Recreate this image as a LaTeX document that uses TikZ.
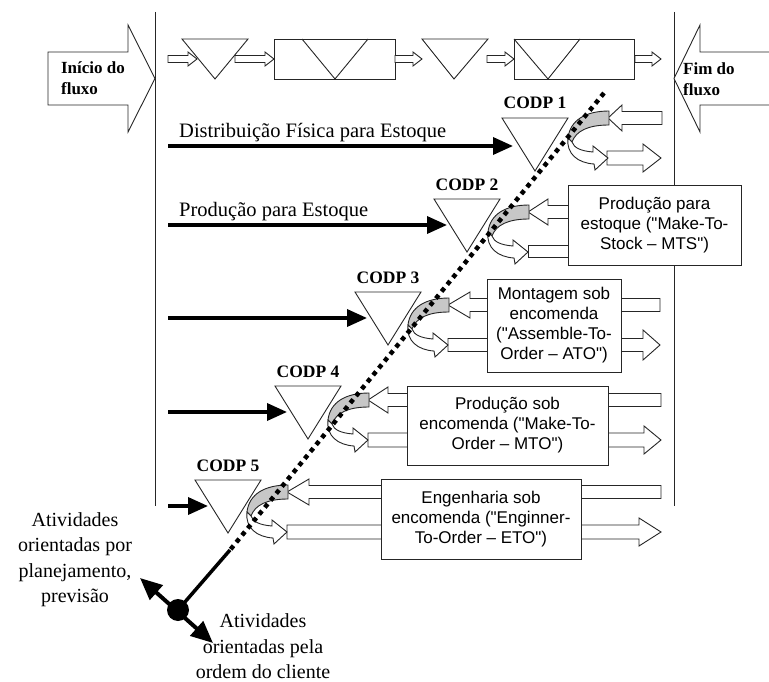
\documentclass[tikz,border=0pt]{standalone}
\usepackage{fontspec}
\setmainfont{Liberation Serif}
\newfontfamily\boxfont{Liberation Sans}
\usetikzlibrary{arrows.meta}

% hollow block arrow: tail x, head base x, tip x, centre y, shaft half-height, head half-height
\newcommand{\hollowarrow}[6]{%
  \draw[lineart,fill=white] (#1,#4-#5) -- (#2,#4-#5) -- (#2,#4-#6) -- (#3,#4)
    -- (#2,#4+#6) -- (#2,#4+#5) -- (#1,#4+#5) -- cycle;}

% U-turn at a decoupling point; #1,#2 = tip of the incoming arrow
\newcommand{\turnback}[2]{%
  \begin{scope}[shift={(#1,#2)}]
    \draw[lineart,fill=black!22] (1,-7) .. controls (-22,-7) and (-38,2) .. (-40,20)
      -- (-36,24) .. controls (-32,13) and (-20,7) .. (1,7) -- cycle;
    \draw[lineart,fill=white] (-40,20) .. controls (-42,36) and (-30,45) .. (-14,46)
      -- (-13,52) -- (0,40) -- (-15,28) -- (-15,34)
      .. controls (-27,33) and (-34,30) .. (-36,24) -- cycle;
  \end{scope}}

% decoupling point triangle: name, left x, top y, label
\newcommand{\codp}[4]{%
  \coordinate (#1) at (#2,#3+27);
  \draw[lineart,fill=white] (#2,#3) -- (#2+66,#3) -- (#2+33,#3+53) -- cycle;
  \node[codplabel,anchor=base] (#1lbl) at (#2+33,#3-9) {#4};}

\begin{document}
\begin{tikzpicture}[x=1pt,y=-1pt,
  lineart/.style={line width=0.9pt,draw=black!85,line join=miter},
  lead/.style={line width=3.5pt,-{Triangle[length=20pt,width=17pt]}},
  codplabel/.style={font=\bfseries\fontsize{17.5}{21}\selectfont,inner sep=0pt},
  flowlabel/.style={font=\bfseries\fontsize{17}{21}\selectfont,inner sep=0pt,align=left},
  leadlabel/.style={font=\fontsize{20.5}{26}\selectfont,inner sep=0pt},
  sidelabel/.style={font=\fontsize{20}{25.5}\selectfont,inner sep=0pt,align=center},
  procbox/.style={lineart,fill=white,align=center,inner sep=0pt,
    font=\boxfont\fontsize{17}{20}\selectfont}]
\useasboundingbox (0,0) rectangle (769,682);
\clip (0,0) rectangle (769,682);

% boundaries of the flow
\draw[lineart] (155,12) -- (155,506);
\draw[lineart] (674,12) -- (674,506);

% start and end of the flow
\draw[lineart,fill=white] (48,52) -- (128,52) -- (128,25) -- (155,78.5) -- (128,132)
  -- (128,105) -- (48,105) -- cycle;
\node[flowlabel,anchor=center] (inicio) at (93,78.5) {Início do\\fluxo};
\draw[lineart,fill=white] (775,52) -- (700,52) -- (700,25) -- (674,78.5) -- (700,132)
  -- (700,105) -- (775,105) -- cycle;
\node[flowlabel,anchor=west] (fim) at (683,79) {Fim do\\fluxo};

% material flow chain along the top
\hollowarrow{168}{188}{197}{59}{3.5}{7}
\draw[lineart] (182,39) -- (248,39) -- (215,79) -- cycle;
\hollowarrow{235}{265}{274}{59}{3.5}{7}
\draw[lineart] (274,39) rectangle (395,79);
\draw[lineart] (302,39) -- (335,79) -- (368,39);
\hollowarrow{395}{413}{422}{59}{3.5}{7}
\draw[lineart] (422,39) -- (488,39) -- (454,79) -- cycle;
\hollowarrow{487}{505}{514}{59}{3.5}{7}
\draw[lineart] (514,39) rectangle (634,79);
\draw[lineart] (514,39) -- (548,79) -- (580,39);
\hollowarrow{635}{652}{661}{59}{3.5}{7}

% order flows (incoming) and deliveries (outgoing)
\hollowarrow{662}{622}{608}{118}{6.5}{13}
\hollowarrow{607}{643}{661}{158}{7}{14}
\hollowarrow{590}{548}{528}{212}{6.5}{13}
\draw[lineart,fill=white] (528,245) rectangle (590,257);
\hollowarrow{660}{470}{448}{305}{6.5}{13}
\hollowarrow{448}{643}{660}{345}{6.5}{15}
\hollowarrow{661}{388}{368}{400}{6.5}{13}
\hollowarrow{368}{644}{661}{440}{7}{14}
\hollowarrow{661}{309}{287}{492}{6.5}{13}
\hollowarrow{287}{639}{661}{532}{7}{14}

% strategies
\node[procbox,minimum width=173pt,minimum height=80pt] (mts) at (654.5,225)
  {Produção para\\estoque ("Make-To-\\Stock – MTS")};
\node[procbox,minimum width=134pt,minimum height=93pt] (ato) at (554,325.5)
  {Montagem sob\\encomenda\\("Assemble-To-\\Order – ATO")};
\node[procbox,minimum width=201pt,minimum height=79pt] (mto) at (507.5,425.5)
  {Produção sob\\encomenda ("Make-To-\\Order – MTO")};
\node[procbox,minimum width=200pt,minimum height=80pt] (eto) at (481,519)
  {Engenharia sob\\encomenda ("Enginner-\\To-Order – ETO")};

% decoupling points
\codp{c1}{502}{118}{CODP 1}
\codp{c2}{434}{199}{CODP 2}
\codp{c3}{355}{292}{CODP 3}
\codp{c4}{275}{386}{CODP 4}
\codp{c5}{195}{480}{CODP 5}

\turnback{608}{118}
\turnback{528}{212}
\turnback{448}{305}
\turnback{368}{400}
\turnback{287}{492}

% forecast driven flows up to each decoupling point
\coordinate (s1) at (168,146);
\coordinate (s2) at (168,225);
\coordinate (s3) at (168,318);
\coordinate (s4) at (168,412);
\coordinate (s5) at (168,506);
\draw[lead] (s1) -- (513,146);
\draw[lead] (s2) -- (447,225);
\draw[lead] (s3) -- (367,318);
\draw[lead] (s4) -- (287,412);
\draw[lead] (s5) -- (208,506);
\node[leadlabel,anchor=base west] (dfe) at (179,138) {Distribuição Física para Estoque};
\node[leadlabel,anchor=base west] (ppe) at (179,217) {Produção para Estoque};

% decoupling line
\coordinate (dtop) at (604,93);
\coordinate (dend) at (230,550);
\node[circle,fill=black,minimum size=22pt,inner sep=0pt] (hub) at (178,610) {};
\draw[line width=4.5pt,dash pattern=on 4.5pt off 4.5pt] (dtop) -- (dend);
\draw[line width=3.5pt] (dend) -- (hub.center);
\coordinate (plan) at (140,578);
\coordinate (cli) at (213,643);
\draw[line width=4pt,{Triangle[length=22pt,width=19pt]}-{Triangle[length=22pt,width=19pt]}] (plan) -- (cli);

\node[sidelabel] (lblplan) at (75,559.5) {Atividades\\orientadas por\\planejamento,\\previsão};
\node[sidelabel] (lblcli) at (263,646.5) {Atividades\\orientadas pela\\ordem do cliente};
\end{tikzpicture}
\end{document}
